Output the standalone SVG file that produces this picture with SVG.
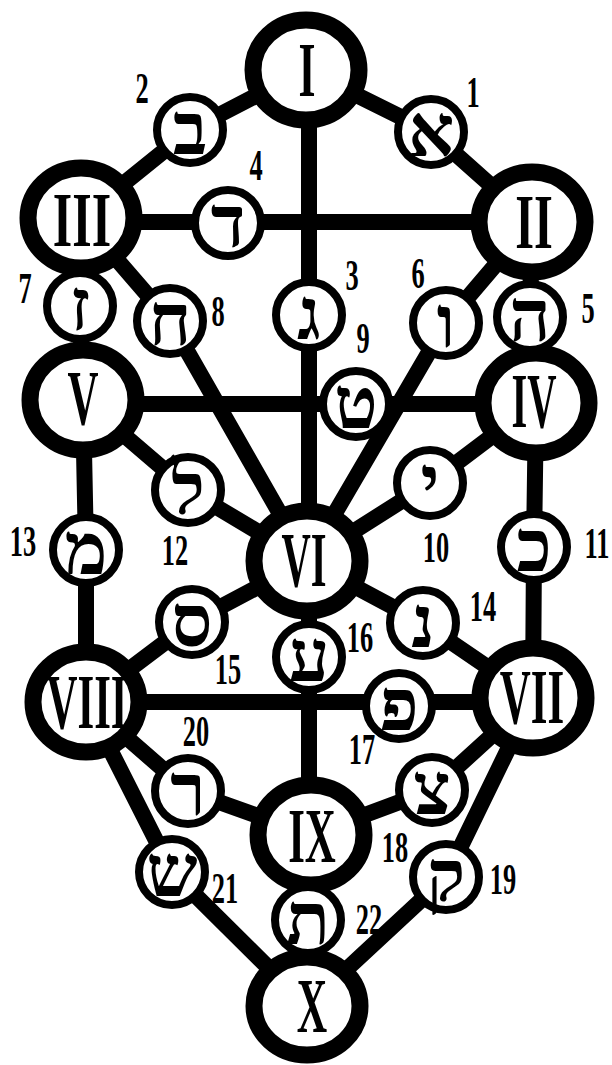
<svg xmlns="http://www.w3.org/2000/svg" width="612" height="1065" viewBox="0 0 612 1065">
<style>
.ln{stroke:#000;stroke-width:16;fill:none;stroke-linejoin:round;stroke-linecap:round}
.sef{fill:#fff;stroke:#000;stroke-width:17}
.pth{fill:#fff;stroke:#000;stroke-width:8}
.rom{font-family:"Liberation Serif",serif;font-weight:bold;font-size:78px;text-anchor:middle;fill:#000}
.heb{font-family:"Liberation Serif","DejaVu Sans",serif;font-weight:bold;font-size:72px;text-anchor:middle;fill:#000}
.num{font-family:"Liberation Serif",serif;font-weight:bold;font-size:44px;text-anchor:middle;fill:#000}
</style>
<rect width="612" height="1065" fill="#fff"/>
<g id="connectors">
<polyline class="ln" points="306,70 431,132 532,222"/>
<polyline class="ln" points="306,70 190,130 81,218"/>
<polyline class="ln" points="309,70 309,1006"/>
<polyline class="ln" points="81,222 532,222"/>
<polyline class="ln" points="532,222 530,317 536,403"/>
<polyline class="ln" points="532,222 446,323 307,561"/>
<polyline class="ln" points="81,218 80,306 83,400"/>
<polyline class="ln" points="81,218 170,321 307,561"/>
<polyline class="ln" points="83,404 536,404"/>
<polyline class="ln" points="536,403 430,483 307,561"/>
<polyline class="ln" points="536,403 534,547 533,698"/>
<polyline class="ln" points="83,400 188,490 307,561"/>
<polyline class="ln" points="83,400 86,550 86,702"/>
<polyline class="ln" points="307,561 423,623 533,698"/>
<polyline class="ln" points="307,561 192,622 86,702"/>
<polyline class="ln" points="86,702 533,702"/>
<polyline class="ln" points="533,698 432,790 311,835"/>
<polyline class="ln" points="533,698 446,877 307,1006"/>
<polyline class="ln" points="86,702 188,791 311,835"/>
<polyline class="ln" points="86,702 172,872 307,1006"/>
</g>
<g id="s1"><ellipse class="sef" cx="306" cy="70" rx="53" ry="50"/><text class="rom" transform="translate(307,96) scale(0.56,1)">I</text></g>
<g id="s2"><ellipse class="sef" cx="532" cy="222" rx="53" ry="50"/><text class="rom" transform="translate(534,248) scale(0.62,1)">II</text></g>
<g id="s3"><ellipse class="sef" cx="81" cy="218" rx="53" ry="50"/><text class="rom" transform="translate(82,246) scale(0.64,1)">III</text></g>
<g id="s4"><ellipse class="sef" cx="536" cy="403" rx="53" ry="50"/><text class="rom" transform="translate(534,427) scale(0.52,1)">IV</text></g>
<g id="s5"><ellipse class="sef" cx="83" cy="400" rx="53" ry="50"/><text class="rom" transform="translate(83,424) scale(0.55,1)">V</text></g>
<g id="s6"><ellipse class="sef" cx="307" cy="561" rx="53" ry="50"/><text class="rom" transform="translate(304,586) scale(0.52,1)">VI</text></g>
<g id="s7"><ellipse class="sef" cx="533" cy="698" rx="53" ry="50"/><text class="rom" transform="translate(532,723) scale(0.55,1)">VII</text></g>
<g id="s8"><ellipse class="sef" cx="86" cy="702" rx="53" ry="50"/><text class="rom" transform="translate(87,728) scale(0.55,1)">VIII</text></g>
<g id="s9"><ellipse class="sef" cx="311" cy="835" rx="53" ry="50"/><text class="rom" transform="translate(312,862) scale(0.55,1)">IX</text></g>
<g id="s10"><ellipse class="sef" cx="307" cy="1006" rx="53" ry="49"/><text class="rom" transform="translate(312,1032) scale(0.54,1)">X</text></g>
<g id="p1"><circle class="pth" cx="431" cy="132" r="33"/><text class="heb" x="431" y="156">א</text><text class="num" transform="translate(473,107) scale(0.6,1)">1</text></g>
<g id="p2"><circle class="pth" cx="190" cy="130" r="33"/><text class="heb" x="190" y="154">ב</text><text class="num" transform="translate(142,103) scale(0.6,1)">2</text></g>
<g id="p3"><circle class="pth" cx="309" cy="315" r="33"/><text class="heb" x="309" y="339">ג</text><text class="num" transform="translate(352,290) scale(0.6,1)">3</text></g>
<g id="p4"><circle class="pth" cx="228" cy="223" r="33"/><text class="heb" x="228" y="247">ד</text><text class="num" transform="translate(256,180) scale(0.6,1)">4</text></g>
<g id="p5"><circle class="pth" cx="530" cy="317" r="33"/><text class="heb" x="530" y="341">ה</text><text class="num" transform="translate(588,323) scale(0.6,1)">5</text></g>
<g id="p6"><circle class="pth" cx="446" cy="323" r="33"/><text class="heb" x="446" y="347">ו</text><text class="num" transform="translate(418,288) scale(0.6,1)">6</text></g>
<g id="p7"><circle class="pth" cx="80" cy="306" r="33"/><text class="heb" x="80" y="330">ז</text><text class="num" transform="translate(25,303) scale(0.6,1)">7</text></g>
<g id="p8"><circle class="pth" cx="170" cy="321" r="33"/><text class="heb" x="170" y="345">ח</text><text class="num" transform="translate(218,326) scale(0.6,1)">8</text></g>
<g id="p9"><circle class="pth" cx="356" cy="404" r="33"/><text class="heb" x="356" y="428">ט</text><text class="num" transform="translate(363,353) scale(0.6,1)">9</text></g>
<g id="p10"><circle class="pth" cx="430" cy="483" r="33"/><text class="heb" x="430" y="507">י</text><text class="num" transform="translate(436,562) scale(0.6,1)">10</text></g>
<g id="p11"><circle class="pth" cx="534" cy="547" r="33"/><text class="heb" x="534" y="571">כ</text><text class="num" transform="translate(597,558) scale(0.6,1)">11</text></g>
<g id="p12"><circle class="pth" cx="188" cy="490" r="33"/><text class="heb" x="188" y="514">ל</text><text class="num" transform="translate(175,565) scale(0.6,1)">12</text></g>
<g id="p13"><circle class="pth" cx="86" cy="550" r="33"/><text class="heb" x="86" y="574">מ</text><text class="num" transform="translate(23,556) scale(0.6,1)">13</text></g>
<g id="p14"><circle class="pth" cx="423" cy="623" r="33"/><text class="heb" x="423" y="647">נ</text><text class="num" transform="translate(483,621) scale(0.6,1)">14</text></g>
<g id="p15"><circle class="pth" cx="192" cy="622" r="33"/><text class="heb" x="192" y="646">ס</text><text class="num" transform="translate(228,684) scale(0.6,1)">15</text></g>
<g id="p16"><circle class="pth" cx="309" cy="657" r="33"/><text class="heb" x="309" y="681">ע</text><text class="num" transform="translate(360,652) scale(0.6,1)">16</text></g>
<g id="p17"><circle class="pth" cx="399" cy="706" r="33"/><text class="heb" x="399" y="730">פ</text><text class="num" transform="translate(362,764) scale(0.6,1)">17</text></g>
<g id="p18"><circle class="pth" cx="432" cy="790" r="33"/><text class="heb" x="432" y="814">צ</text><text class="num" transform="translate(395,862) scale(0.6,1)">18</text></g>
<g id="p19"><circle class="pth" cx="446" cy="877" r="33"/><text class="heb" x="446" y="901">ק</text><text class="num" transform="translate(503,894) scale(0.6,1)">19</text></g>
<g id="p20"><circle class="pth" cx="188" cy="791" r="33"/><text class="heb" x="188" y="815">ר</text><text class="num" transform="translate(196,746) scale(0.6,1)">20</text></g>
<g id="p21"><circle class="pth" cx="172" cy="872" r="33"/><text class="heb" x="172" y="896">ש</text><text class="num" transform="translate(225,903) scale(0.6,1)">21</text></g>
<g id="p22"><circle class="pth" cx="308" cy="920" r="33"/><text class="heb" x="308" y="944">ת</text><text class="num" transform="translate(369,934) scale(0.6,1)">22</text></g>
</svg>
